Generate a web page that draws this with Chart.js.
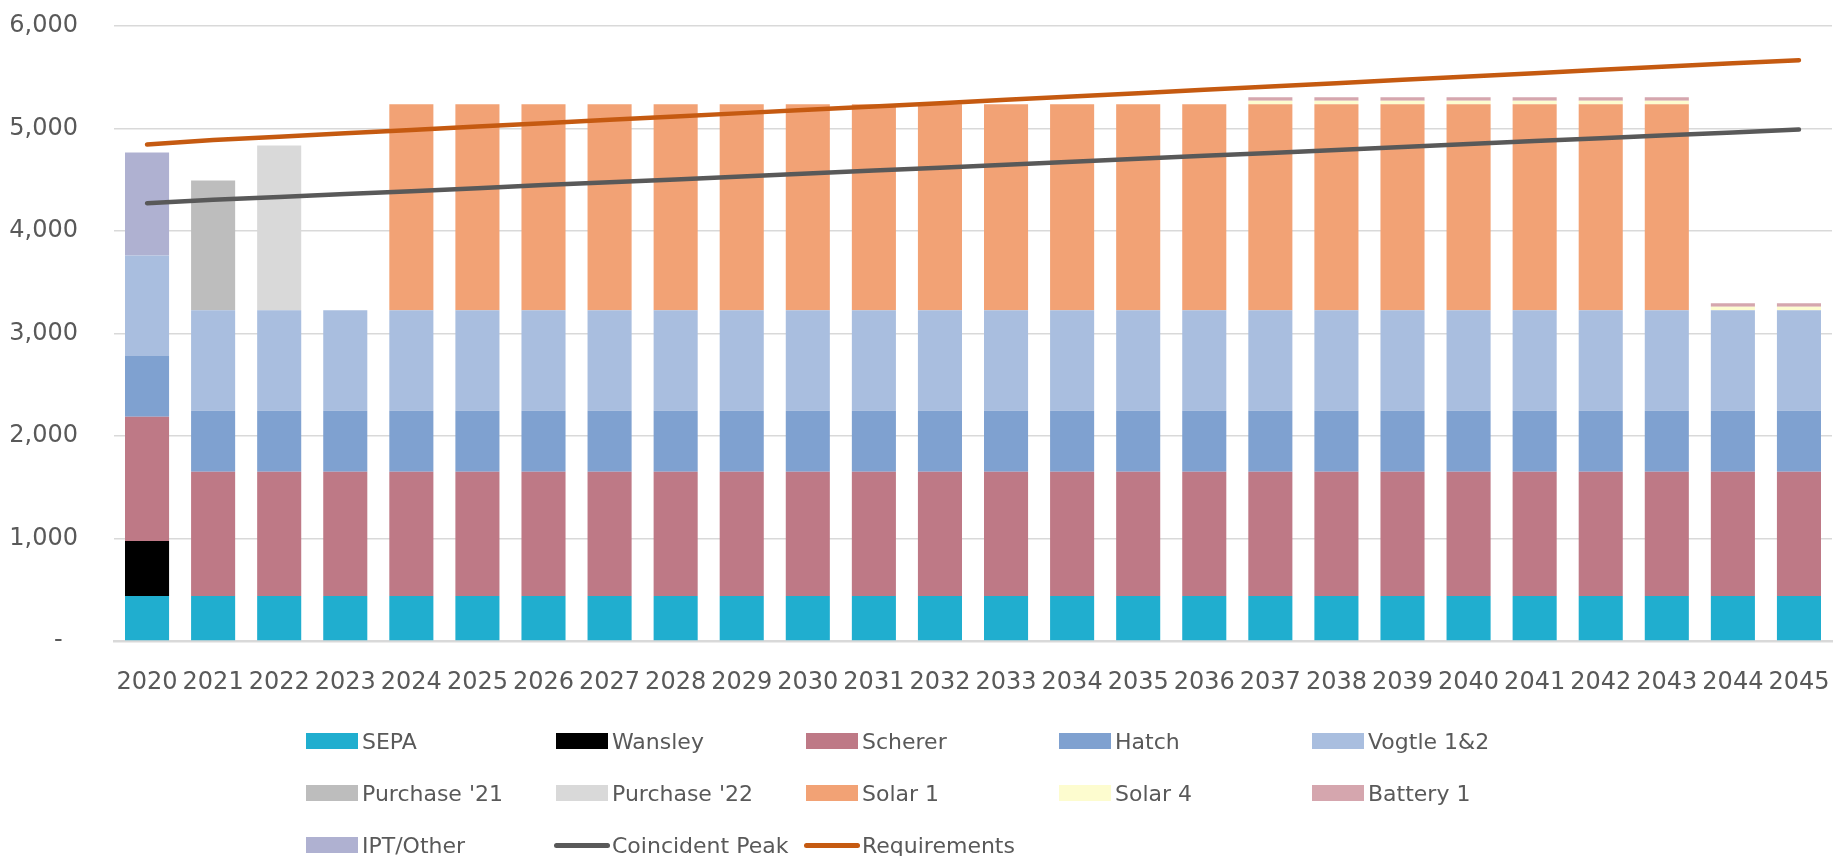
<!DOCTYPE html>
<html>
<head>
<meta charset="utf-8">
<script src="https://cdn.jsdelivr.net/npm/chart.js@4"></script>
<style>
  html, body { margin: 0; padding: 0; background: #fff; }
  body { width: 1845px; height: 856px; position: relative; overflow: hidden; font-family: "DejaVu Sans", sans-serif; }
  #wrap { position: absolute; left: 0; top: 0; width: 1845px; height: 701px; }
  #legend { position: absolute; left: 0; top: 0; width: 1845px; height: 856px; pointer-events: none; }
  .item { position: absolute; height: 26px; display: flex; align-items: center; color: #595959; font-size: 22px; white-space: nowrap; }
  .box { width: 52px; height: 16px; margin-right: 4px; }
  .ln { width: 56px; height: 5px; border-radius: 3px; margin-right: 2px; }
</style>
</head>
<body>
<div id="wrap"><canvas id="c"></canvas></div>
<div id="legend"></div>
<script>
const years = ["2020","2021","2022","2023","2024","2025","2026","2027","2028","2029","2030","2031","2032","2033","2034","2035","2036","2037","2038","2039","2040","2041","2042","2043","2044","2045"];

const sepa      = [440,440,440,440,440,440,440,440,440,440,440,440,440,440,440,440,440,440,440,440,440,440,440,440,440,440];
const wansley   = [535,null,null,null,null,null,null,null,null,null,null,null,null,null,null,null,null,null,null,null,null,null,null,null,null,null];
const scherer   = [1212,1212,1212,1212,1212,1212,1212,1212,1212,1212,1212,1212,1212,1212,1212,1212,1212,1212,1212,1212,1212,1212,1212,1212,1212,1212];
const hatch     = [594,594,594,594,594,594,594,594,594,594,594,594,594,594,594,594,594,594,594,594,594,594,594,594,594,594];
const vogtle    = [980,980,980,980,980,980,980,980,980,980,980,980,980,980,980,980,980,980,980,980,980,980,980,980,980,980];
const purchase21= [null,1266,null,null,null,null,null,null,null,null,null,null,null,null,null,null,null,null,null,null,null,null,null,null,null,null];
const purchase22= [null,null,1608,null,null,null,null,null,null,null,null,null,null,null,null,null,null,null,null,null,null,null,null,null,null,null];
const solar1    = [null,null,null,null,2010,2010,2010,2010,2010,2010,2010,2010,2010,2010,2010,2010,2010,2010,2010,2010,2010,2010,2010,2010,null,null];
const solar4    = [null,null,null,null,null,null,null,null,null,null,null,null,null,null,null,null,null,35,35,35,35,35,35,35,35,35];
const battery1  = [null,null,null,null,null,null,null,null,null,null,null,null,null,null,null,null,null,33,33,33,33,33,33,33,33,33];
const iptOther  = [1005,null,null,null,null,null,null,null,null,null,null,null,null,null,null,null,null,null,null,null,null,null,null,null,null,null];
const coincidentPeak = [4271,4305,4332,4360,4388,4418,4448,4475,4503,4532,4560,4590,4618,4647,4676,4705,4733,4762,4791,4820,4848,4877,4905,4934,4962,4990];
const requirements   = [4844,4888,4920,4953,4985,5020,5052,5085,5117,5150,5182,5215,5247,5280,5312,5345,5377,5410,5442,5475,5507,5540,5572,5605,5636,5667];

const yTicks = [0,1000,2000,3000,4000,5000,6000];

const barSeries = [
  ["SEPA", sepa, "#20AECF"],
  ["Wansley", wansley, "#000000"],
  ["Scherer", scherer, "#BE7986"],
  ["Hatch", hatch, "#7FA1D0"],
  ["Vogtle 1&2", vogtle, "#A9BEDF"],
  ["Purchase '21", purchase21, "#BDBDBD"],
  ["Purchase '22", purchase22, "#D9D9D9"],
  ["Solar 1", solar1, "#F2A275"],
  ["Solar 4", solar4, "#FDFCCF"],
  ["Battery 1", battery1, "#D5A6AE"],
  ["IPT/Other", iptOther, "#AFB1D1"]
];
const lineSeries = [
  ["Coincident Peak", coincidentPeak, "#595959"],
  ["Requirements", requirements, "#C55A11"]
];

const FONT = "'DejaVu Sans', sans-serif";
const datasets = [];
barSeries.forEach(([label, data, color]) => {
  datasets.push({ type: 'bar', label, data, backgroundColor: color, borderWidth: 0, stack: 's', order: 1,
    barPercentage: 0.667, categoryPercentage: 1.0 });
});
lineSeries.forEach(([label, data, color]) => {
  datasets.push({ type: 'line', label, data, borderColor: color, backgroundColor: color, borderWidth: 4.5,
    pointRadius: 0, tension: 0, borderCapStyle: 'round', borderJoinStyle: 'round', order: 0, stack: 'l' + label });
});

new Chart(document.getElementById('c'), {
  type: 'bar',
  data: { labels: years, datasets },
  options: {
    responsive: true, maintainAspectRatio: false, animation: false,
    layout: { padding: { left: 0, right: 13, top: 26, bottom: 0 } },
    plugins: { legend: { display: false }, tooltip: { enabled: false } },
    scales: {
      x: {
        stacked: true,
        grid: { display: false, drawTicks: false },
        border: { display: true, color: '#D9D9D9', width: 2.5 },
        ticks: { color: '#595959', font: { family: FONT, size: 24 }, padding: 27, autoSkip: false, maxRotation: 0, minRotation: 0 },
        afterFit: (s) => { s.height = 60; s.paddingLeft = 0; s.paddingRight = 0; }
      },
      y: {
        stacked: true, min: 0, max: 6000,
        afterBuildTicks: (s) => { s.ticks = yTicks.map(v => ({ value: v })); },
        grid: { color: '#D9D9D9', lineWidth: 1.5, drawTicks: false },
        border: { display: false },
        ticks: { color: '#595959', font: { family: FONT, size: 24 }, padding: 36,
          callback: (v) => v === 0 ? '-  ' : v.toLocaleString('en-US') },
        afterFit: (s) => { s.width = 114; s.paddingTop = 0; s.paddingBottom = 0; }
      }
    }
  }
});

// HTML legend
const legendItems = [
  ...barSeries.map(([l, , c]) => ({ l, c, t: 'box' })),
  ...lineSeries.map(([l, , c]) => ({ l, c, t: 'line' }))
];
const colX = [306, 556, 806, 1059, 1312];
const rowY = [741, 793, 845];
const lg = document.getElementById('legend');
legendItems.forEach((it, i) => {
  const r = Math.floor(i / 5), col = i % 5;
  const d = document.createElement('div');
  d.className = 'item';
  d.style.left = colX[col] + 'px';
  d.style.top = (rowY[r] - 13) + 'px';
  const m = document.createElement('div');
  m.className = it.t === 'box' ? 'box' : 'ln';
  m.style.background = it.c;
  if (it.t === 'line') m.style.marginLeft = '-2px';
  const s = document.createElement('span');
  s.textContent = it.l;
  d.appendChild(m); d.appendChild(s);
  lg.appendChild(d);
});
</script>
</body>
</html>
